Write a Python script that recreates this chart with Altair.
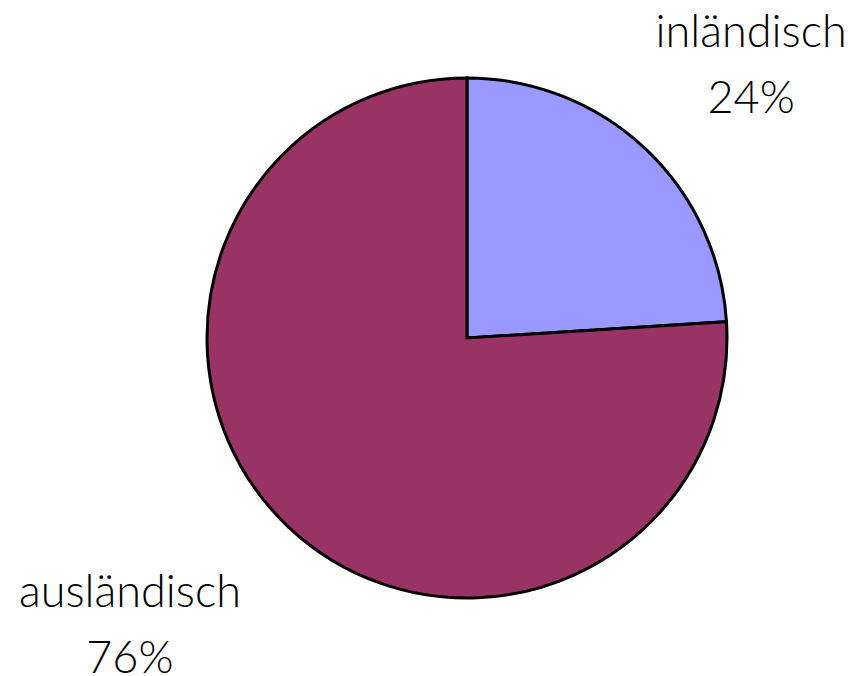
import altair as alt
import pandas as pd

categories = ["inländisch", "ausländisch"]
shares = [24, 76]
labels = ["inländisch\n24%", "ausländisch\n76%"]
colors = ["#9999FF", "#993366"]

df = pd.DataFrame({"cat": categories, "share": shares, "label": labels, "ord": [0, 1]})

CX, CY, R = 459, 330, 260

pie = alt.Chart(df).mark_arc(stroke="black", strokeWidth=3).encode(
    theta=alt.Theta("share:Q", stack=True),
    order=alt.Order("ord:Q"),
    color=alt.Color("cat:N", scale=alt.Scale(domain=categories, range=colors), legend=None),
    x=alt.value(CX), y=alt.value(CY), radius=alt.value(R),
)

lab_base = alt.Chart(df).transform_window(
    cum="sum(share)", sort=[alt.SortField("ord")]
).transform_calculate(
    mid="datum.cum - datum.share / 2"
)

def label_layer(cat, dx, dy):
    return lab_base.transform_filter(alt.datum.cat == cat).mark_text(
        font="Lato", fontSize=45, fontWeight=300, fill="black", align="center",
        baseline="alphabetic", lineBreak="\n", lineHeight=66, dx=dx, dy=dy,
    ).encode(
        theta=alt.Theta("mid:Q", stack=False, scale=alt.Scale(domain=[0, 100])),
        text="label:N", x=alt.value(CX), y=alt.value(CY), radius=alt.value(415),
    )

chart = alt.layer(
    pie,
    label_layer("inländisch", 0, 11.5),
    label_layer("ausländisch", -53, -33.5),
).resolve_scale(theta="independent").properties(
    width=840, height=668, padding=0, autosize=alt.AutoSizeParams(type="none"),
).configure_view(stroke=None)

chart.save("out.html", embed_options={"renderer": "svg", "actions": False})
